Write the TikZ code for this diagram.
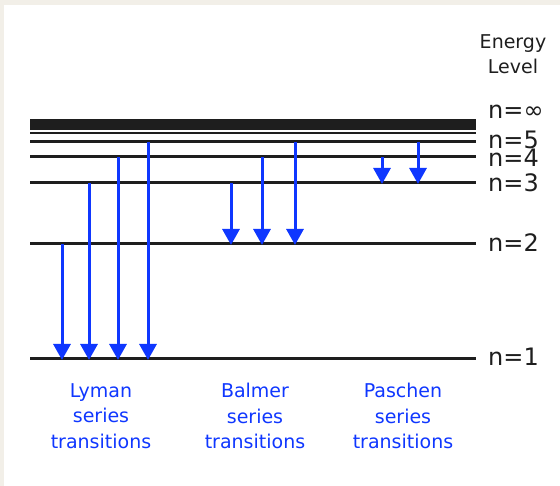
\documentclass[tikz,border=0pt]{standalone}
\usepackage{fontspec}
\setmainfont{DejaVu Sans}
\usetikzlibrary{arrows.meta}
\definecolor{paper}{HTML}{F2EFE8}
\definecolor{series}{RGB}{15,55,255}
\definecolor{ink}{RGB}{30,30,30}
\tikzset{
  level/.style={line width=3pt, ink},
  trans/.style={line width=3pt, series, -{Triangle[width=17pt,length=16pt]}, shorten >=-1pt},
  lvlabel/.style={anchor=west, inner sep=0pt, text=ink, font=\fontsize{24}{24}\selectfont},
  serieslabel/.style={align=center, inner sep=0pt, text=series, font=\fontsize{19}{25.5}\selectfont},
}
\begin{document}
\begin{tikzpicture}[x=1pt,y=-1pt]
  % page and white panel
  \fill[paper] (0,0) rectangle (560,486);
  \fill[white] (4,5) rectangle (560,486);
  \useasboundingbox (0,0) rectangle (560,486);

  % energy levels
  \fill[ink] (30,119) rectangle (476,130.5);
  \draw[line width=2pt, ink] (30,133.5) -- (476,133.5);
  \draw[level] (30,142) -- (476,142);
  \draw[level] (30,157) -- (476,157);
  \draw[level] (30,183) -- (476,183);
  \draw[level] (30,244) -- (476,244);
  \draw[level] (30,359) -- (476,359);

  % level labels
  \node[align=center, inner sep=0pt, text=ink, font=\fontsize{19}{25}\selectfont] (title) at (513,54) {Energy\\Level};
  \node[lvlabel] (ninf) at (488,112) {n=\symbol{"221E}};
  \node[lvlabel] (n5) at (488,140) {n=5};
  \node[lvlabel] (n4) at (488,158) {n=4};
  \node[lvlabel] (n3) at (488,183) {n=3};
  \node[lvlabel] (n2) at (488,243) {n=2};
  \node[lvlabel] (n1) at (488,357) {n=1};

  % transition end points
  \coordinate (l1a) at (62,244);  \coordinate (l1b) at (62,359);
  \coordinate (l2a) at (89,183);  \coordinate (l2b) at (89,359);
  \coordinate (l3a) at (118,157); \coordinate (l3b) at (118,359);
  \coordinate (l4a) at (148,142); \coordinate (l4b) at (148,359);
  \coordinate (b1a) at (231,183); \coordinate (b1b) at (231,244);
  \coordinate (b2a) at (262,157); \coordinate (b2b) at (262,244);
  \coordinate (b3a) at (295,142); \coordinate (b3b) at (295,244);
  \coordinate (p1a) at (382,157); \coordinate (p1b) at (382,183);
  \coordinate (p2a) at (418,142); \coordinate (p2b) at (418,183);

  % Lyman series
  \draw[trans] (l1a) -- (l1b);
  \draw[trans] (l2a) -- (l2b);
  \draw[trans] (l3a) -- (l3b);
  \draw[trans] (l4a) -- (l4b);
  % Balmer series
  \draw[trans] (b1a) -- (b1b);
  \draw[trans] (b2a) -- (b2b);
  \draw[trans] (b3a) -- (b3b);
  % Paschen series
  \draw[trans] (p1a) -- (p1b);
  \draw[trans] (p2a) -- (p2b);

  % series names
  \node[serieslabel] (lyman) at (101,416) {Lyman\\series\\transitions};
  \node[serieslabel] (balmer) at (255,416) {Balmer\\series\\transitions};
  \node[serieslabel] (paschen) at (403,416) {Paschen\\series\\transitions};
\end{tikzpicture}
\end{document}
